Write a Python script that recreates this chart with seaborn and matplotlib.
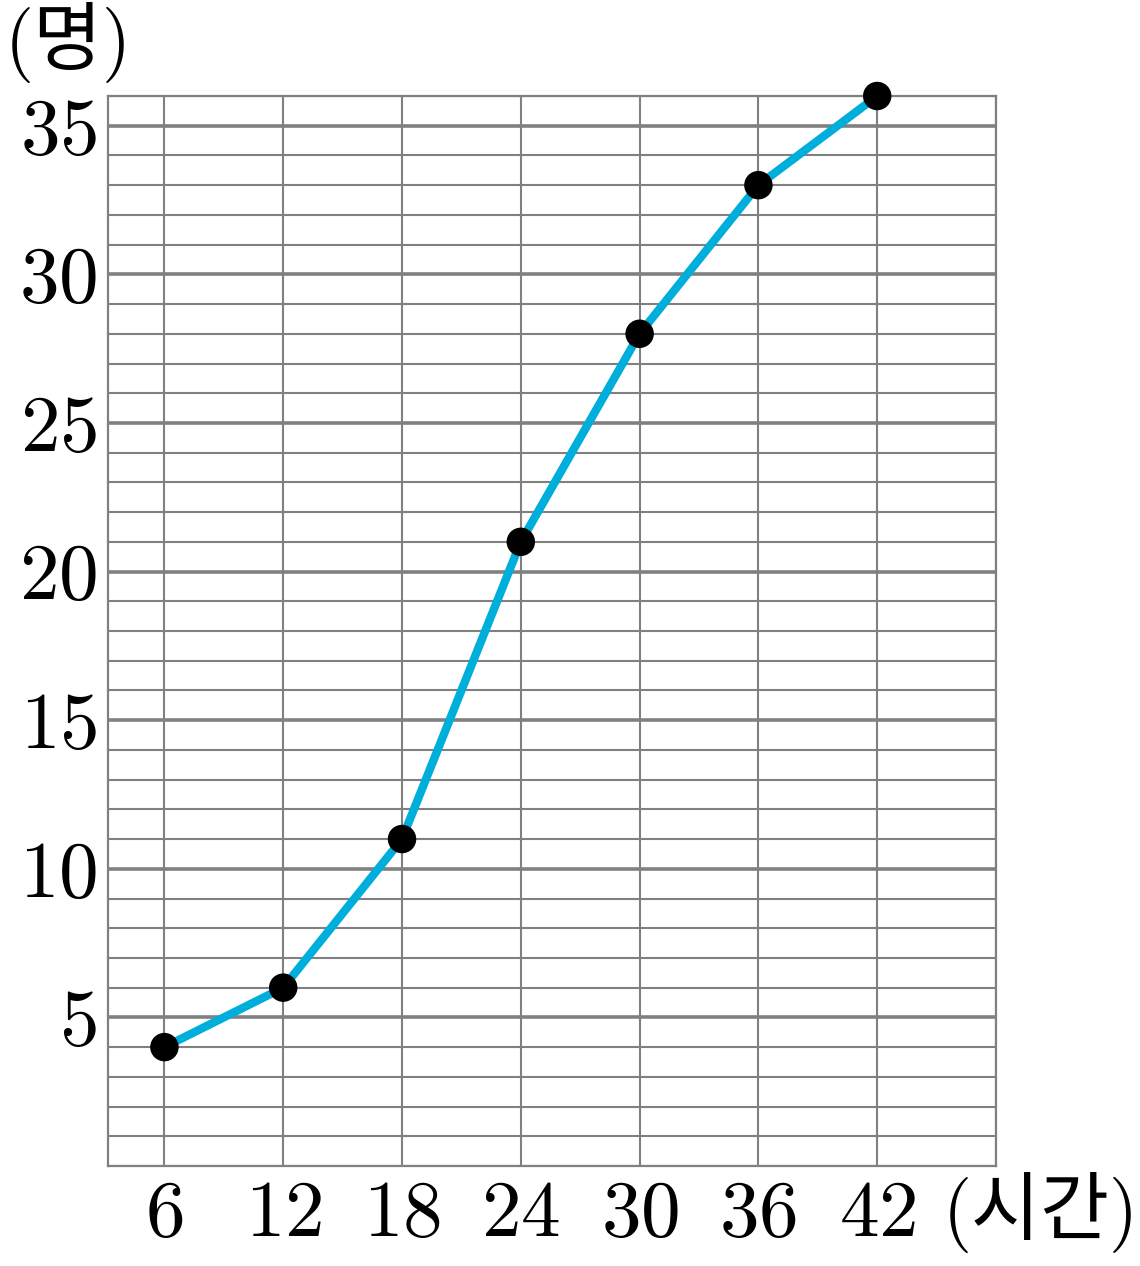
import numpy as np
import pandas as pd
import matplotlib.pyplot as plt
import seaborn as sns

# 데이터 (시간, 누적 인원)
hours = [6, 12, 18, 24, 30, 36, 42]
people = [4, 6, 11, 21, 28, 33, 36]
y_major = [5, 10, 15, 20, 25, 30, 35]

GRID = '#808080'
LINE = '#00AEDB'
FONTS = ['cmr10', 'Noto Sans CJK KR']

sns.set_theme(style='white')
plt.rcParams['font.family'] = FONTS
plt.rcParams['axes.formatter.use_mathtext'] = True
plt.rcParams['text.color'] = 'black'
plt.rcParams['xtick.labelcolor'] = 'black'
plt.rcParams['ytick.labelcolor'] = 'black'

df = pd.DataFrame({'hours': hours, 'people': people})

fig = plt.figure(figsize=(11.4, 12.66), dpi=100)
ax = fig.add_axes([108 / 1140, 100 / 1266, (996 - 108) / 1140, (1166 - 96) / 1266])

sns.lineplot(data=df, x='hours', y='people', ax=ax, color=LINE, lw=6, zorder=3,
             clip_on=False)
sns.scatterplot(data=df, x='hours', y='people', ax=ax, color='black', s=420,
                edgecolor='none', zorder=4, clip_on=False)

ax.set_xlim(3.15, 48)
ax.set_ylim(0, 36)

# 눈금과 격자
ax.set_xticks(hours)
ax.set_xticks([48], minor=True)
ax.set_yticks(y_major)
ax.set_yticks(np.arange(0, 37), minor=True)

ax.grid(True, which='major', axis='y', color=GRID, lw=2.6, zorder=1)
ax.grid(True, which='minor', axis='y', color=GRID, lw=1.5, zorder=1)
ax.grid(True, which='both', axis='x', color=GRID, lw=1.5, zorder=1)
ax.set_axisbelow(True)

for s in ax.spines.values():
    s.set_color(GRID)
    s.set_linewidth(1.6)

ax.tick_params(axis='y', which='major', length=2, width=2.6, color=GRID,
               labelsize=57, pad=6)
ax.tick_params(axis='y', which='minor', length=0)
ax.tick_params(axis='x', which='both', length=0, labelsize=57, pad=10)
for lab in ax.get_xticklabels() + ax.get_yticklabels():
    lab.set_fontfamily(FONTS)

ax.set_xlabel('')
ax.set_ylabel('')

fig.text(5 / 1140, 1 - 2 / 1266, '(명)', fontsize=54, family=FONTS, va='top', ha='left')
fig.text(1139 / 1140, 1 - 1172 / 1266, '(시간)', fontsize=54, family=FONTS, va='top', ha='right')

fig.savefig('out.png', dpi=100)
